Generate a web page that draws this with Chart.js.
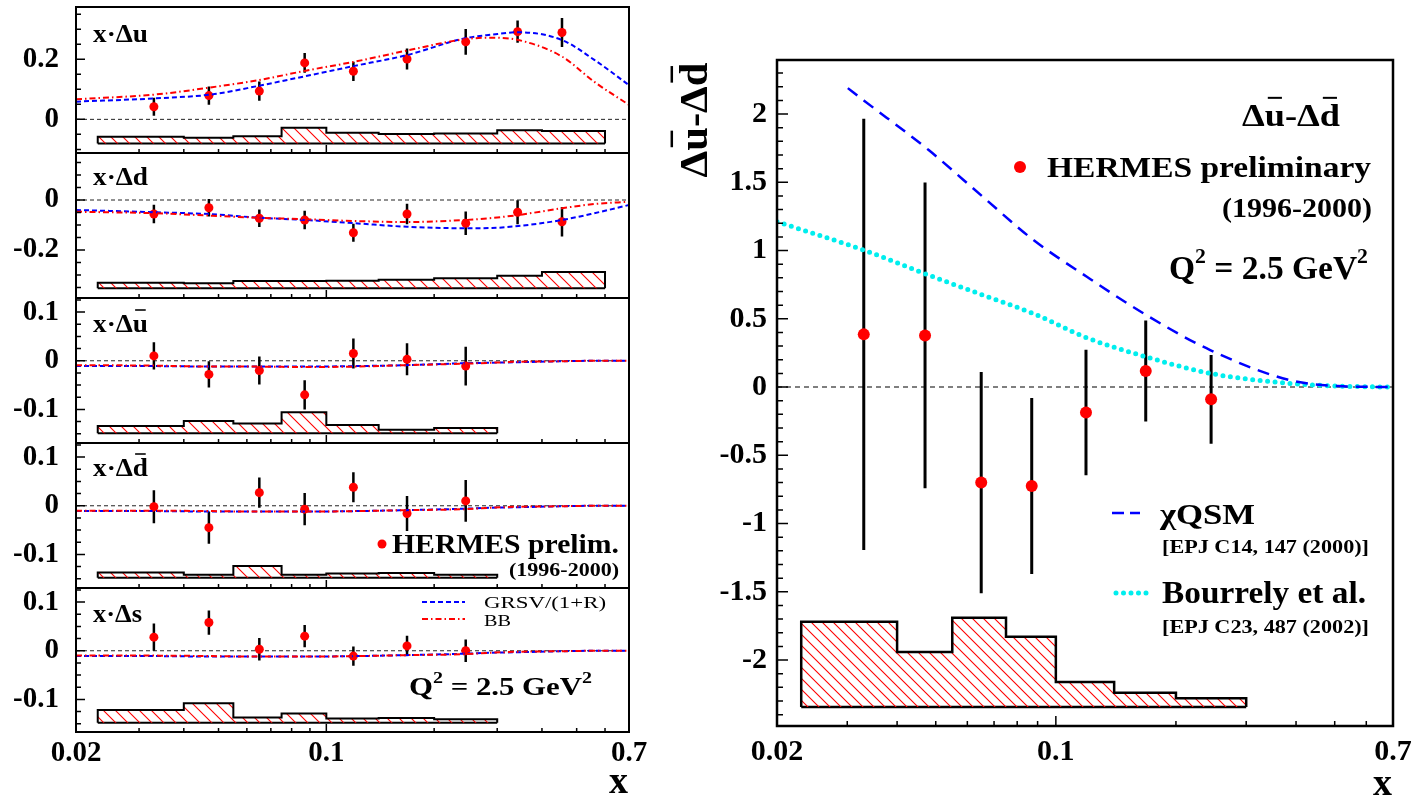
<!DOCTYPE html>
<html>
<head>
<meta charset="utf-8">
<script src="https://cdn.jsdelivr.net/npm/chart.js@4.4.1/dist/chart.umd.min.js"></script>
<style>
  html, body { margin: 0; padding: 0; background: #fff; }
  #wrap { position: relative; width: 1420px; height: 796px; overflow: hidden; }
  canvas { position: absolute; }
</style>
</head>
<body>
<div id="wrap">
  <canvas id="pU"  width="660" height="156" style="left:0;top:2px"></canvas>
  <canvas id="pD"  width="660" height="155" style="left:0;top:148px"></canvas>
  <canvas id="pUB" width="660" height="155" style="left:0;top:293px"></canvas>
  <canvas id="pDB" width="660" height="155" style="left:0;top:438px"></canvas>
  <canvas id="pS"  width="660" height="213" style="left:0;top:583px"></canvas>
  <canvas id="pDiff" width="780" height="796" style="left:640px;top:0"></canvas>
</div>
<script>
// ---- data ----
const X_MIN = 0.02, X_MAX = 0.7;
const X_LABELS = [0.02, 0.1, 0.7];
const X_MINOR = [0.03, 0.04, 0.05, 0.06, 0.07, 0.08, 0.09, 0.2, 0.3, 0.4, 0.5, 0.6];

const BIN_EDGES = [0.023, 0.04, 0.055, 0.075, 0.1, 0.14, 0.2, 0.3, 0.4, 0.6];
const X_DATA = [0.033, 0.047, 0.065, 0.087, 0.119, 0.168, 0.245, 0.342, 0.455];
const X_MODEL = [0.02, 0.0335, 0.048, 0.065, 0.0876, 0.12, 0.168, 0.244, 0.29, 0.344, 0.455, 0.56, 0.7];

// x·Δu
const U_VAL = [0.042, 0.079, 0.094, 0.188, 0.160, 0.201, 0.258, 0.292, 0.289];
const U_ERR = [0.030, 0.030, 0.032, 0.033, 0.032, 0.035, 0.043, 0.037, 0.048];
const U_SYS = [-0.058, -0.061, -0.056, -0.028, -0.045, -0.049, -0.047, -0.036, -0.039];
const U_SYS_BASE = -0.080;
const U_GRSV = [0.059, 0.070, 0.083, 0.112, 0.144, 0.178, 0.214, 0.270, 0.282, 0.290, 0.264, 0.198, 0.114];
const U_BB   = [0.067, 0.083, 0.107, 0.131, 0.162, 0.192, 0.229, 0.267, 0.272, 0.264, 0.209, 0.125, 0.048];

// x·Δd
const D_VAL = [-0.056, -0.031, -0.073, -0.080, -0.131, -0.056, -0.093, -0.049, -0.087];
const D_ERR = [0.037, 0.035, 0.035, 0.037, 0.036, 0.041, 0.047, 0.048, 0.059];
const D_SYS = [-0.331, -0.333, -0.324, -0.324, -0.323, -0.319, -0.313, -0.303, -0.288];
const D_SYS_BASE = -0.353;
const D_GRSV = [-0.040, -0.049, -0.057, -0.071, -0.080, -0.093, -0.107, -0.113, -0.112, -0.104, -0.080, -0.053, -0.020];
const D_BB   = [-0.047, -0.053, -0.063, -0.071, -0.077, -0.084, -0.088, -0.080, -0.072, -0.060, -0.033, -0.016, -0.007];

// x·Δū
const UB_VAL = [0.010, -0.028, -0.020, -0.070, 0.015, 0.003, -0.011];
const UB_ERR = [0.028, 0.027, 0.029, 0.030, 0.031, 0.033, 0.040];
const UB_SYS = [-0.134, -0.124, -0.129, -0.106, -0.132, -0.142, -0.138];
const UB_SYS_BASE = -0.149;
const UB_GRSV = [-0.011, -0.011, -0.012, -0.012, -0.012, -0.011, -0.009, -0.005, -0.004, -0.003, -0.001, 0, 0];
const UB_BB   = [-0.009, -0.010, -0.012, -0.012, -0.013, -0.012, -0.009, -0.006, -0.004, -0.002, -0.001, 0, 0];

// x·Δd̄
const DB_VAL = [-0.002, -0.045, 0.027, -0.007, 0.038, -0.016, 0.010];
const DB_ERR = [0.034, 0.033, 0.031, 0.033, 0.031, 0.036, 0.043];
const DB_SYS = [-0.137, -0.142, -0.124, -0.142, -0.139, -0.138, -0.142];
const DB_SYS_BASE = -0.148;
const DB_GRSV = [-0.011, -0.011, -0.012, -0.012, -0.012, -0.011, -0.009, -0.006, -0.004, -0.003, -0.001, 0, 0];
const DB_BB   = [-0.010, -0.010, -0.011, -0.012, -0.012, -0.011, -0.009, -0.007, -0.004, -0.002, -0.001, 0, 0];

// x·Δs
const S_VAL = [0.028, 0.058, 0.003, 0.030, -0.011, 0.010, 0.000];
const S_ERR = [0.028, 0.025, 0.023, 0.023, 0.020, 0.021, 0.023];
const S_SYS = [-0.122, -0.108, -0.137, -0.129, -0.139, -0.138, -0.141];
const S_SYS_BASE = -0.148;
const S_GRSV = [-0.011, -0.011, -0.012, -0.012, -0.012, -0.011, -0.009, -0.006, -0.004, -0.003, -0.001, 0, 0];
const S_BB   = [-0.010, -0.010, -0.011, -0.012, -0.012, -0.011, -0.009, -0.007, -0.004, -0.002, -0.001, 0, 0];

// Δū-Δd̄
const DIFF_VAL = [0.386, 0.378, -0.700, -0.725, -0.186, 0.117, -0.090];
const DIFF_ERR = [1.58, 1.12, 0.81, 0.645, 0.46, 0.37, 0.325];
const DIFF_SYS = [-1.72, -1.94, -1.69, -1.83, -2.16, -2.24, -2.28];
const DIFF_SYS_BASE = -2.344;
const CQSM_X = [0.0301, 0.033, 0.048, 0.0656, 0.0879, 0.1196, 0.1684, 0.2437, 0.3865, 0.51, 0.7];
const CQSM_Y = [2.19, 2.10, 1.736, 1.394, 1.077, 0.808, 0.528, 0.271, 0.050, 0.007, 0.0];
const BOUR_X = [0.02, 0.033, 0.048, 0.0656, 0.088, 0.12, 0.168, 0.244, 0.386, 0.51, 0.7];
const BOUR_Y = [1.211, 1.003, 0.82, 0.674, 0.537, 0.359, 0.222, 0.10, 0.027, 0.007, 0.0];

// ---- helpers ----
const FONT = "'Liberation Serif', 'Times New Roman', serif";
const BLUE = '#0000ff', RED = '#ff0000', CYAN = '#00eeee';

function xy(xs, ys) { return ys.map((y, i) => ({ x: xs[i], y: y })); }

function histOutline(edges, tops, base) {
  const pts = [{ x: edges[0], y: base }];
  tops.forEach((t, i) => {
    pts.push({ x: edges[i], y: t });
    pts.push({ x: edges[i + 1], y: t });
  });
  pts.push({ x: edges[tops.length], y: base });
  return pts;
}

function hatch(step) {
  const c = document.createElement('canvas');
  c.width = c.height = step;
  const g = c.getContext('2d');
  g.strokeStyle = RED;
  g.lineWidth = 1.1;
  g.beginPath();
  g.moveTo(0, 0); g.lineTo(step, step);
  g.moveTo(-2, step - 2); g.lineTo(2, step + 2);
  g.moveTo(step - 2, -2); g.lineTo(step + 2, 2);
  g.stroke();
  return g.createPattern(c, 'repeat');
}

function drawRich(ctx, t) {
  const weight = t.bold === false ? 'normal' : 'bold';
  const sizeOf = p => p[1] === 'sup' ? t.size * 0.65 : t.size;
  const widths = t.parts.map(p => {
    ctx.font = weight + ' ' + sizeOf(p) + 'px ' + FONT;
    return ctx.measureText(p[0]).width;
  });
  const total = widths.reduce((a, b) => a + b, 0);
  const sx = t.width ? t.width / total : 1;
  ctx.save();
  ctx.translate(t.x, t.y);
  if (t.rot) ctx.rotate(t.rot);
  ctx.scale(sx, 1);
  let cx = t.align === 'right' ? -total : t.align === 'center' ? -total / 2 : 0;
  ctx.fillStyle = '#000';
  ctx.strokeStyle = '#000';
  ctx.textAlign = 'left';
  ctx.textBaseline = 'alphabetic';
  t.parts.forEach((p, i) => {
    ctx.font = weight + ' ' + sizeOf(p) + 'px ' + FONT;
    const dy = p[1] === 'sup' ? -t.size * 0.5 : 0;
    ctx.fillText(p[0], cx, dy);
    if (p[1] === 'bar') {
      ctx.lineWidth = Math.max(1.5, t.size / 16);
      ctx.beginPath();
      ctx.moveTo(cx + widths[i] * 0.15, -t.size * 0.88);
      ctx.lineTo(cx + widths[i] * 0.85, -t.size * 0.88);
      ctx.stroke();
    }
    cx += widths[i];
  });
  ctx.restore();
}

function decoPlugin(p) {
  return {
    id: 'deco',
    beforeDatasetsDraw(chart) {
      const { ctx, chartArea: a } = chart;
      const py = chart.scales.y.getPixelForValue(0);
      ctx.save();
      ctx.beginPath();
      ctx.setLineDash(p.zeroDash);
      ctx.strokeStyle = p.zeroColor;
      ctx.lineWidth = p.zeroWidth;
      ctx.moveTo(a.left, py);
      ctx.lineTo(a.right, py);
      ctx.stroke();
      ctx.restore();
    },
    beforeDatasetDraw(chart, args) {
      const ds = chart.data.datasets[args.index];
      if (!ds.errors) return;
      const { ctx, scales: { x, y } } = chart;
      ctx.save();
      ctx.strokeStyle = '#000';
      ctx.lineWidth = p.errWidth;
      ctx.beginPath();
      ds.data.forEach((pt, i) => {
        const px = x.getPixelForValue(pt.x);
        ctx.moveTo(px, y.getPixelForValue(pt.y + ds.errors[i]));
        ctx.lineTo(px, y.getPixelForValue(pt.y - ds.errors[i]));
      });
      ctx.stroke();
      ctx.restore();
    },
    afterDraw(chart) {
      const { ctx, chartArea: a, scales: { x, y } } = chart;
      ctx.save();
      // inward ticks
      ctx.strokeStyle = '#000';
      ctx.lineWidth = 1.5;
      ctx.beginPath();
      p.yLabels.forEach(v => {
        const py = y.getPixelForValue(v);
        ctx.moveTo(a.left, py); ctx.lineTo(a.left + p.majLen, py);
      });
      const st = p.yMinor;
      for (let v = Math.ceil(y.min / st) * st; v <= y.max; v += st) {
        if (p.yLabels.some(m => Math.abs(m - v) < st / 4)) continue;
        const py = y.getPixelForValue(v);
        ctx.moveTo(a.left, py); ctx.lineTo(a.left + p.minLen, py);
      }
      X_MINOR.forEach(v => {
        const px = x.getPixelForValue(v);
        ctx.moveTo(px, a.bottom); ctx.lineTo(px, a.bottom - p.xMinLen);
      });
      const p01 = x.getPixelForValue(0.1);
      ctx.moveTo(p01, a.bottom); ctx.lineTo(p01, a.bottom - p.xMajLen);
      ctx.stroke();
      // frame
      ctx.lineWidth = p.frameWidth;
      ctx.strokeRect(a.left, a.top, a.right - a.left, a.bottom - a.top);
      ctx.translate(-p.ox, -p.oy);
      // legend marks
      (p.marks || []).forEach(m => {
        ctx.save();
        if (m.dot) {
          ctx.fillStyle = RED;
          ctx.beginPath();
          ctx.arc(m.x, m.y, m.r, 0, Math.PI * 2);
          ctx.fill();
        } else {
          ctx.strokeStyle = m.color;
          ctx.lineWidth = m.width;
          ctx.lineCap = m.cap || 'butt';
          ctx.setLineDash(m.dash);
          ctx.beginPath();
          ctx.moveTo(m.x0, m.y); ctx.lineTo(m.x1, m.y);
          ctx.stroke();
        }
        ctx.restore();
      });
      (p.texts || []).forEach(t => drawRich(ctx, t));
      ctx.restore();
    }
  };
}

function makePanel(id, p) {
  const datasets = [
    {
      data: histOutline(BIN_EDGES, p.sys, p.sysBase),
      borderColor: '#000', borderWidth: p.histWidth,
      backgroundColor: hatch(p.hatchStep), fill: { value: p.sysBase },
      pointRadius: 0, tension: 0
    },
    {
      data: [{ x: BIN_EDGES[0], y: p.sysBase }, { x: BIN_EDGES[p.sys.length], y: p.sysBase }],
      borderColor: '#000', borderWidth: p.histWidth, pointRadius: 0, fill: false
    }
  ];
  p.curves.forEach(c => datasets.push({
    data: xy(c.x, c.y), borderColor: c.color, borderWidth: c.width, borderDash: c.dash,
    borderCapStyle: c.cap || 'butt', pointRadius: 0, fill: false,
    cubicInterpolationMode: 'monotone'
  }));
  datasets.push({
    data: xy(p.xData, p.val), errors: p.err, showLine: false,
    pointRadius: p.dotR, pointBackgroundColor: RED, pointBorderWidth: 0, pointHoverRadius: p.dotR
  });

  const tickFont = { family: FONT, size: p.tickSize, weight: 'bold' };
  return new Chart(document.getElementById(id), {
    type: 'line',
    data: { datasets: datasets },
    plugins: [decoPlugin(p)],
    options: {
      animation: false, responsive: false, devicePixelRatio: 1,
      events: [],
      layout: { padding: p.pad },
      plugins: { legend: { display: false }, tooltip: { enabled: false } },
      scales: {
        x: {
          type: 'logarithmic', min: X_MIN, max: X_MAX, display: p.showX,
          grid: { display: false, drawTicks: false }, border: { display: false },
          afterBuildTicks: s => { s.ticks = X_LABELS.map(v => ({ value: v })); },
          afterFit: s => { s.height = p.xAxisH; s.paddingLeft = 0; s.paddingRight = 0; },
          ticks: {
            font: tickFont, color: '#000', padding: p.xTickPad, maxRotation: 0,
            autoSkip: false, callback: v => String(v)
          }
        },
        y: {
          type: 'linear', min: p.yMin, max: p.yMax,
          grid: { display: false, drawTicks: false }, border: { display: false },
          afterBuildTicks: s => { s.ticks = p.yLabels.map(v => ({ value: v })); },
          afterFit: s => { s.width = p.yAxisW; s.paddingTop = 0; s.paddingBottom = 0; },
          ticks: { font: tickFont, color: '#000', padding: p.yTickPad, callback: v => String(v) }
        }
      }
    }
  });
}

// ---- left column ----
const leftBase = {
  xData: X_DATA, dotR: 4.5, errWidth: 2.5, histWidth: 2, hatchStep: 12,
  tickSize: 29, yTickPad: 17, xTickPad: 4, yAxisW: 76, showX: false, xAxisH: 0,
  majLen: 9, minLen: 5, xMajLen: 8, xMinLen: 4, frameWidth: 2,
  zeroDash: [4, 3], zeroColor: '#222', zeroWidth: 1, ox: 0
};
function modelCurves(grsv, bb) {
  return [
    { x: X_MODEL, y: bb, color: RED, width: 2, dash: [6, 3, 1.5, 3] },
    { x: X_MODEL, y: grsv, color: BLUE, width: 2, dash: [5, 3] }
  ];
}
function lbl(parts, y, w) { return { parts: parts, x: 93, y: y, size: 25, width: w }; }

makePanel('pU', Object.assign({}, leftBase, {
  oy: 2, pad: { left: 0, right: 31, top: 5, bottom: 5 },
  yMin: -0.112, yMax: 0.374, yLabels: [0, 0.2], yMinor: 0.05,
  val: U_VAL, err: U_ERR, sys: U_SYS, sysBase: U_SYS_BASE, curves: modelCurves(U_GRSV, U_BB),
  texts: [lbl([['x·Δu']], 42, 55)]
}));
makePanel('pD', Object.assign({}, leftBase, {
  oy: 148, pad: { left: 0, right: 31, top: 5, bottom: 5 },
  yMin: -0.392, yMax: 0.188, yLabels: [-0.2, 0], yMinor: 0.05,
  val: D_VAL, err: D_ERR, sys: D_SYS, sysBase: D_SYS_BASE, curves: modelCurves(D_GRSV, D_BB),
  texts: [lbl([['x·Δd']], 185, 55)]
}));
makePanel('pUB', Object.assign({}, leftBase, {
  oy: 293, pad: { left: 0, right: 31, top: 5, bottom: 5 },
  yMin: -0.169, yMax: 0.129, yLabels: [-0.1, 0, 0.1], yMinor: 0.025,
  xData: X_DATA.slice(0, 7),
  val: UB_VAL, err: UB_ERR, sys: UB_SYS, sysBase: UB_SYS_BASE, curves: modelCurves(UB_GRSV, UB_BB),
  texts: [lbl([['x·Δ'], ['u', 'bar']], 332, 55)]
}));
makePanel('pDB', Object.assign({}, leftBase, {
  oy: 438, pad: { left: 0, right: 31, top: 5, bottom: 5 },
  yMin: -0.169, yMax: 0.129, yLabels: [-0.1, 0, 0.1], yMinor: 0.025,
  xData: X_DATA.slice(0, 7),
  val: DB_VAL, err: DB_ERR, sys: DB_SYS, sysBase: DB_SYS_BASE, curves: modelCurves(DB_GRSV, DB_BB),
  marks: [{ dot: true, x: 382, y: 544, r: 4.5 }],
  texts: [
    lbl([['x·Δ'], ['d', 'bar']], 476, 55),
    { parts: [['HERMES prelim.']], x: 392, y: 553, size: 27, width: 227 },
    { parts: [['(1996-2000)']], x: 619, y: 576, size: 19, width: 110, align: 'right' }
  ]
}));
makePanel('pS', Object.assign({}, leftBase, {
  oy: 583, pad: { left: 0, right: 31, top: 5, bottom: 0 }, showX: true, xAxisH: 64,
  yMin: -0.167, yMax: 0.129, yLabels: [-0.1, 0, 0.1], yMinor: 0.025,
  xData: X_DATA.slice(0, 7),
  val: S_VAL, err: S_ERR, sys: S_SYS, sysBase: S_SYS_BASE, curves: modelCurves(S_GRSV, S_BB),
  marks: [
    { x0: 422, x1: 465, y: 602, color: BLUE, width: 2, dash: [5, 3] },
    { x0: 422, x1: 465, y: 619, color: RED, width: 2, dash: [6, 3, 1.5, 3] }
  ],
  texts: [
    lbl([['x·Δs']], 622, 49),
    { parts: [['GRSV/(1+R)']], x: 484, y: 608, size: 17, bold: false, width: 122 },
    { parts: [['BB']], x: 484, y: 626, size: 17, bold: false, width: 27 },
    { parts: [['Q'], ['2', 'sup'], [' = 2.5 GeV'], ['2', 'sup']], x: 409, y: 695, size: 25, width: 183 },
    { parts: [['x']], x: 628, y: 793, size: 38, align: 'right' }
  ]
}));

// ---- right panel ----
makePanel('pDiff', {
  ox: 640, oy: 0, pad: { left: 0, right: 27, top: 60, bottom: 0 },
  showX: true, xAxisH: 70, yAxisW: 137, tickSize: 30, yTickPad: 10, xTickPad: 8,
  yMin: -2.483, yMax: 2.396, yLabels: [-2, -1.5, -1, -0.5, 0, 0.5, 1, 1.5, 2], yMinor: 0.1,
  majLen: 11, minLen: 6, xMajLen: 10, xMinLen: 5, frameWidth: 2.5,
  zeroDash: [5, 4], zeroColor: '#555', zeroWidth: 1.5,
  xData: X_DATA.slice(0, 7), dotR: 6, errWidth: 3, histWidth: 2.5, hatchStep: 11,
  val: DIFF_VAL, err: DIFF_ERR, sys: DIFF_SYS, sysBase: DIFF_SYS_BASE,
  curves: [
    { x: CQSM_X, y: CQSM_Y, color: BLUE, width: 2.5, dash: [12, 8] },
    { x: BOUR_X, y: BOUR_Y, color: CYAN, width: 5, dash: [0, 7.5], cap: 'round' }
  ],
  marks: [
    { dot: true, x: 1020, y: 167, r: 6 },
    { x0: 1112, x1: 1140, y: 513, color: BLUE, width: 2.5, dash: [12, 6] },
    { x0: 1116, x1: 1148, y: 593, color: CYAN, width: 5, dash: [0, 7.5], cap: 'round' }
  ],
  texts: [
    { parts: [['Δ'], ['u', 'bar'], ['-Δ'], ['d', 'bar']], x: 707, y: 120, size: 40, width: 115, align: 'center', rot: -Math.PI / 2 },
    { parts: [['Δ'], ['u', 'bar'], ['-Δ'], ['d', 'bar']], x: 1242, y: 126, size: 32, width: 98 },
    { parts: [['HERMES preliminary']], x: 1047, y: 177, size: 30, width: 324 },
    { parts: [['(1996-2000)']], x: 1372, y: 217, size: 27, width: 150, align: 'right' },
    { parts: [['Q'], ['2', 'sup'], [' = 2.5 GeV'], ['2', 'sup']], x: 1169, y: 279, size: 33, width: 199 },
    { parts: [['χQSM']], x: 1160, y: 524, size: 30, width: 95 },
    { parts: [['[EPJ C14, 147 (2000)]']], x: 1162, y: 553, size: 18, width: 207 },
    { parts: [['Bourrely et al.']], x: 1162, y: 603, size: 31, width: 204 },
    { parts: [['[EPJ C23, 487 (2002)]']], x: 1162, y: 633, size: 18, width: 207 },
    { parts: [['x']], x: 1392, y: 795, size: 38, align: 'right' }
  ]
});
</script>
</body>
</html>
